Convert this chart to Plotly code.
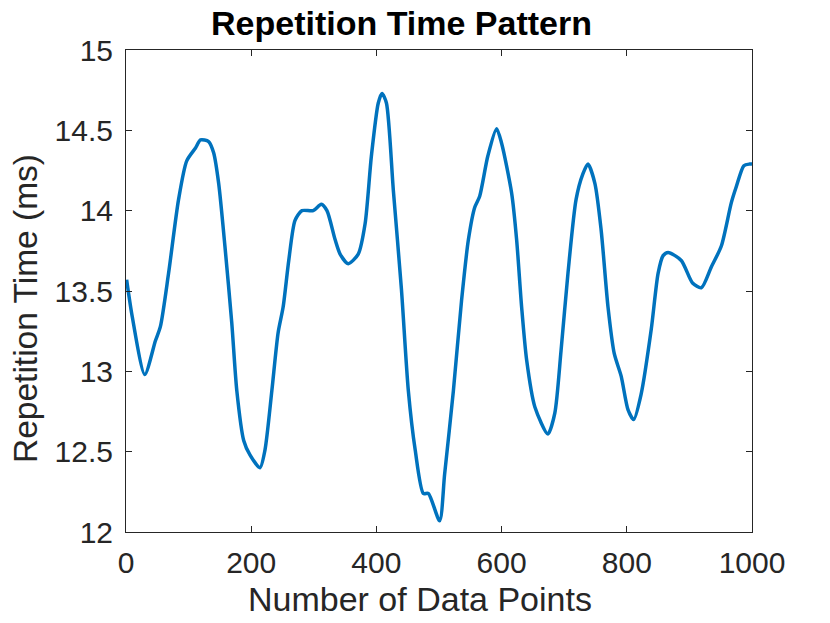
import plotly.graph_objects as go

x_points = [1, 10, 30, 47, 55, 68, 84, 97, 111, 119,
            132, 140, 148, 158, 169, 177, 188, 198, 214, 222,
            233, 243, 251, 260, 270, 281, 299, 312, 321, 334,
            342, 355, 371, 382, 392, 403, 409, 416, 427, 440,
            451, 462, 475, 483, 501, 509, 523, 536, 547, 557,
            565, 578, 592, 600, 616, 624, 632, 640, 653, 674,
            685, 695, 706, 719, 730, 738, 749, 759, 770, 780,
            791, 802, 811, 823, 839, 850, 858, 866, 887, 905,
            919, 935, 951, 967, 975, 987, 996, 1000]
rep_time = [13.57, 13.34, 12.98, 13.19, 13.28, 13.61, 14.07, 14.31, 14.39, 14.44,
            14.43, 14.36, 14.17, 13.78, 13.30, 12.88, 12.57, 12.48, 12.40, 12.51,
            12.88, 13.24, 13.40, 13.69, 13.94, 14.00, 14.00, 14.04, 14.00, 13.82,
            13.73, 13.67, 13.73, 13.92, 14.34, 14.67, 14.73, 14.67, 14.13, 13.51,
            12.88, 12.51, 12.24, 12.24, 12.07, 12.36, 12.88, 13.44, 13.82, 14.02,
            14.09, 14.34, 14.51, 14.42, 14.11, 13.82, 13.40, 13.07, 12.78, 12.61,
            12.74, 13.13, 13.61, 14.07, 14.23, 14.29, 14.17, 13.88, 13.40, 13.11,
            12.97, 12.76, 12.70, 12.86, 13.26, 13.61, 13.72, 13.74, 13.69, 13.55,
            13.52, 13.65, 13.78, 14.05, 14.15, 14.28, 14.29, 14.29]

x_ticks = [0, 200, 400, 600, 800, 1000]
y_ticks = [12, 12.5, 13, 13.5, 14, 14.5, 15]
y_tick_labels = ["12", "12.5", "13", "13.5", "14", "14.5", "15"]

title_text = "Repetition Time Pattern"
x_label = "Number of Data Points"
y_label = "Repetition Time (ms)"

W, H = 830, 623
L, R, T, B = 126, 78, 50, 91
pw, ph = W - L - R, H - T - B

def px(xp):  # window pixel -> paper
    return (xp - L) / pw

def py(yp):
    return (H - B - yp) / ph

font = "Liberation Sans, Arial, sans-serif"
axis_col = "#262626"

fig = go.Figure()
fig.add_trace(go.Scatter(
    x=x_points, y=rep_time, mode="lines",
    line=dict(color="#0072BD", width=3.5, shape="spline", smoothing=0.7),
    showlegend=False, hoverinfo="skip"))

axis_common = dict(
    showgrid=False, zeroline=False, showline=True, linecolor=axis_col,
    linewidth=1, mirror="ticks", ticks="inside", ticklen=6, tickcolor=axis_col,
    tickfont=dict(family=font, size=30, color=axis_col))

fig.update_layout(
    width=W, height=H,
    margin=dict(l=L, r=R, t=T, b=B, pad=0),
    plot_bgcolor="white", paper_bgcolor="white",
    xaxis=dict(range=[0, 1000], tickvals=x_ticks, ticklabelstandoff=4, **axis_common),
    yaxis=dict(range=[12, 15], tickvals=y_ticks, ticktext=y_tick_labels,
               ticklabelstandoff=6, **axis_common),
    annotations=[
        dict(text="<b>" + title_text + "</b>", x=px(401), y=py(23), xref="paper", yref="paper",
             showarrow=False, xanchor="center", yanchor="middle",
             font=dict(family=font, size=34, color="black")),
        dict(text=x_label, x=px(420), y=py(599), xref="paper", yref="paper",
             showarrow=False, xanchor="center", yanchor="middle",
             font=dict(family=font, size=34, color=axis_col)),
        dict(text=y_label, x=px(25), y=py(309), xref="paper", yref="paper",
             showarrow=False, xanchor="center", yanchor="middle", textangle=-90,
             font=dict(family=font, size=33.5, color=axis_col)),
    ],
)

fig.write_html("out.html",
               config={"displayModeBar": False},
               post_script="document.body.style.margin='0';document.body.style.overflow='hidden';")
